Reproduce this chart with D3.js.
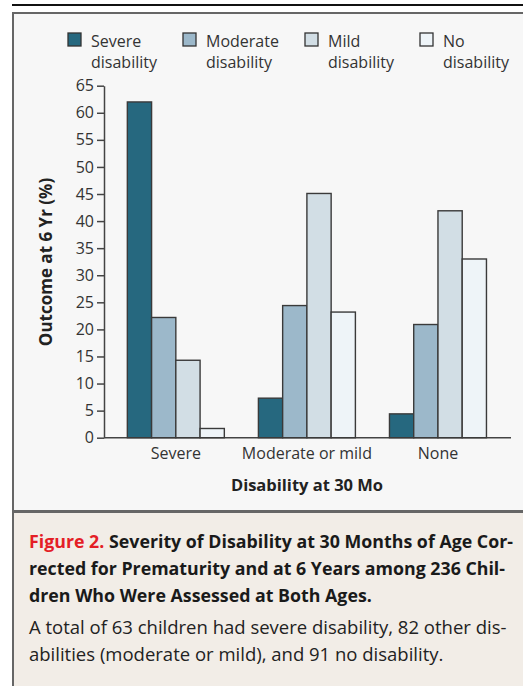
<!DOCTYPE html>
<html>
<head>
<meta charset="utf-8">
<script src="https://cdn.jsdelivr.net/npm/d3@7"></script>
<style>
  html, body { margin: 0; padding: 0; background: #fff; }
  svg text { font-family: 'Open Sans', 'Lato', sans-serif; }
</style>
</head>
<body>
<div id="viz"></div>
<script>
// Data
const groups = ['Severe', 'Moderate or mild', 'None'];
const seriesKeys = ['severe', 'moderate', 'mild', 'none'];
const legendLine1 = ['Severe', 'Moderate', 'Mild', 'No'];
const legendLine2 = ['disability', 'disability', 'disability', 'disability'];
const severe = [62.0, 7.3, 4.4];
const moderate = [22.2, 24.4, 20.9];
const mild = [14.3, 45.1, 41.9];
const none = [1.7, 23.2, 33.0];
const yTicks = [0, 5, 10, 15, 20, 25, 30, 35, 40, 45, 50, 55, 60, 65];
const colors = ['#26687f', '#9cb8ca', '#d2dee5', '#eef4f8'];

const seriesValues = { severe, moderate, mild, none };

(function () {
  const W = 523, H = 686;
  const svg = d3.select('#viz').append('svg')
    .attr('width', W).attr('height', H);

  // frame
  svg.append('line')
    .attr('x1', 12).attr('x2', W).attr('y1', 5).attr('y2', 5)
    .attr('stroke', '#111').attr('stroke-width', 2);
  svg.append('rect')
    .attr('x', 13).attr('y', 13).attr('width', W).attr('height', 498)
    .attr('fill', '#f7f7f7').attr('stroke', '#666').attr('stroke-width', 2);
  svg.append('rect')
    .attr('x', 13).attr('y', 512).attr('width', W).attr('height', 200)
    .attr('fill', '#f2ede7').attr('stroke', '#666').attr('stroke-width', 2);

  // scales
  const x0 = d3.scaleBand().domain(groups).range([110.3, 503.5])
    .paddingInner(0.26).paddingOuter(0.13);
  const x1 = d3.scaleBand().domain(seriesKeys).range([0, x0.bandwidth()]);
  const y = d3.scaleLinear().domain([0, 65]).range([437.7, 85.7]);

  const textCol = '#333';

  // y axis
  const yAxis = svg.append('g')
    .attr('transform', 'translate(104,0)')
    .call(d3.axisLeft(y).tickValues(yTicks).tickSize(7).tickPadding(3).tickSizeOuter(0));
  yAxis.select('.domain').attr('stroke', '#444').attr('stroke-width', 1.5);
  yAxis.selectAll('.tick line').attr('stroke', '#444').attr('stroke-width', 1.5);
  yAxis.selectAll('.tick text')
    .attr('fill', textCol).style('font-size', '16px').attr('font-family', null);

  // x axis baseline
  const xAxis = svg.append('g')
    .attr('transform', `translate(0,${y(0)})`)
    .call(d3.axisBottom(x0).tickSize(0).tickPadding(7).tickSizeOuter(0));
  xAxis.select('.domain')
    .attr('d', `M104,0H511`)
    .attr('stroke', '#444').attr('stroke-width', 1.5);
  xAxis.selectAll('.tick text')
    .attr('fill', textCol).style('font-size', '16px').attr('font-family', null)
    .attr('dy', '0.9em');

  // bars
  const rows = groups.map((g, i) => ({
    group: g,
    vals: seriesKeys.map((k) => ({ key: k, value: seriesValues[k][i] }))
  }));

  svg.append('g').selectAll('g')
    .data(rows)
    .enter().append('g')
    .attr('transform', (d) => `translate(${x0(d.group)},0)`)
    .selectAll('rect')
    .data((d) => d.vals)
    .enter().append('rect')
    .attr('x', (d) => x1(d.key))
    .attr('y', (d) => y(d.value))
    .attr('width', x1.bandwidth())
    .attr('height', (d) => y(0) - y(d.value))
    .attr('fill', (d, i) => colors[i])
    .attr('stroke', '#3a3a3a')
    .attr('stroke-width', 1.4);

  // axis titles
  svg.append('text')
    .attr('transform', 'translate(52,262) rotate(-90)')
    .attr('text-anchor', 'middle')
    .attr('fill', '#222')
    .style('font-size', '17px').style('font-weight', 'bold')
    .text('Outcome at 6 Yr (%)');

  svg.append('text')
    .attr('x', 307).attr('y', 491)
    .attr('text-anchor', 'middle')
    .attr('fill', '#222')
    .style('font-size', '16.5px').style('font-weight', 'bold')
    .text('Disability at 30 Mo');

  // legend
  const legendX = [68, 183, 305, 420];
  const legend = svg.append('g').selectAll('g')
    .data(seriesKeys)
    .enter().append('g')
    .attr('transform', (d, i) => `translate(${legendX[i]},33)`);
  legend.append('rect')
    .attr('width', 13).attr('height', 13)
    .attr('fill', (d, i) => colors[i])
    .attr('stroke', '#333').attr('stroke-width', 1.3);
  legend.append('text')
    .attr('x', 23).attr('y', 14)
    .attr('fill', textCol).style('font-size', '16px')
    .text((d, i) => legendLine1[i]);
  legend.append('text')
    .attr('x', 23).attr('y', 35)
    .attr('fill', textCol).style('font-size', '16px')
    .text((d, i) => legendLine2[i]);

  // caption
  const capLines = [
    ['Figure 2. ', 'Severity of Disability at 30 Months of Age Cor-'],
    ['', 'rected for Prematurity and at 6 Years among 236 Chil-'],
    ['', 'dren Who Were Assessed at Both Ages.']
  ];
  capLines.forEach((ln, i) => {
    const t = svg.append('text')
      .attr('x', 29).attr('y', 548 + i * 27)
      .style('font-size', '17.8px').style('font-weight', 'bold');
    if (ln[0]) t.append('tspan').attr('fill', '#e41e26').text(ln[0]);
    t.append('tspan').attr('fill', '#1a1a1a').text(ln[1]);
  });
  const bodyLines = [
    'A total of 63 children had severe disability, 82 other dis-',
    'abilities (moderate or mild), and 91 no disability.'
  ];
  bodyLines.forEach((s, i) => {
    svg.append('text')
      .attr('x', 29).attr('y', 634 + i * 27)
      .attr('fill', '#222')
      .style('font-size', '18.5px')
      .text(s);
  });
})();
</script>
</body>
</html>
